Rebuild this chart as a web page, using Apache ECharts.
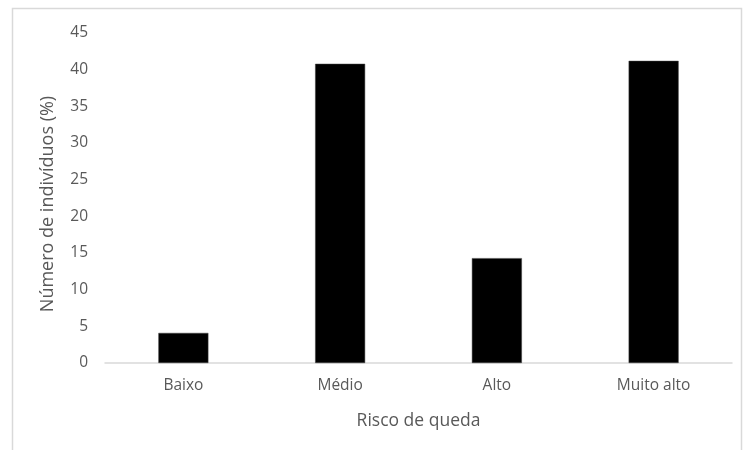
<!DOCTYPE html>
<html>
<head>
<meta charset="utf-8">
<script src="https://cdn.jsdelivr.net/npm/echarts@6/dist/echarts.min.js"></script>
<style>
html,body{margin:0;padding:0;background:#fff;}
#c{width:743px;height:450px;}
</style>
</head>
<body>
<div id="c"></div>
<script>
var categories = ["Baixo", "Médio", "Alto", "Muito alto"];
var values = [4.1, 40.8, 14.3, 41.2];
var yTicks = [0, 5, 10, 15, 20, 25, 30, 35, 40, 45];
var xTitle = "Risco de queda";
var yTitle = "Número de indivíduos (%)";

var chart = echarts.init(document.getElementById('c'), null, {renderer: 'canvas'});
var font = '"Open Sans", "Noto Sans", sans-serif';
chart.setOption({
  animation: false,
  graphic: [{
    type: 'rect',
    shape: {x: 12.5, y: 8.5, width: 729, height: 460},
    style: {fill: 'none', stroke: '#d9d9d9', lineWidth: 1.5},
    silent: true
  }],
  grid: {left: 105, right: 11, top: 33, bottom: 87},
  xAxis: {
    type: 'category',
    data: categories,
    name: xTitle,
    nameLocation: 'middle',
    nameGap: 49,
    nameTextStyle: {color: '#595959', fontSize: 17.5, fontFamily: font},
    axisLine: {lineStyle: {color: '#d9d9d9', width: 1.5}},
    axisTick: {show: false},
    axisLabel: {color: '#595959', fontSize: 15.5, fontFamily: font, margin: 15}
  },
  yAxis: {
    type: 'value',
    min: yTicks[0],
    max: yTicks[yTicks.length - 1],
    interval: 5,
    name: yTitle,
    nameLocation: 'middle',
    nameGap: 48,
    nameTextStyle: {color: '#595959', fontSize: 18, fontFamily: font, padding: [0, 12, 0, 0]},
    axisLine: {show: false},
    axisTick: {show: false},
    splitLine: {show: false},
    axisLabel: {color: '#595959', fontSize: 15.5, fontFamily: font, margin: 17}
  },
  series: [{
    type: 'bar',
    data: values,
    barWidth: 50,
    itemStyle: {color: '#000000', borderColor: '#404040', borderWidth: 0.5}
  }]
});
</script>
</body>
</html>
